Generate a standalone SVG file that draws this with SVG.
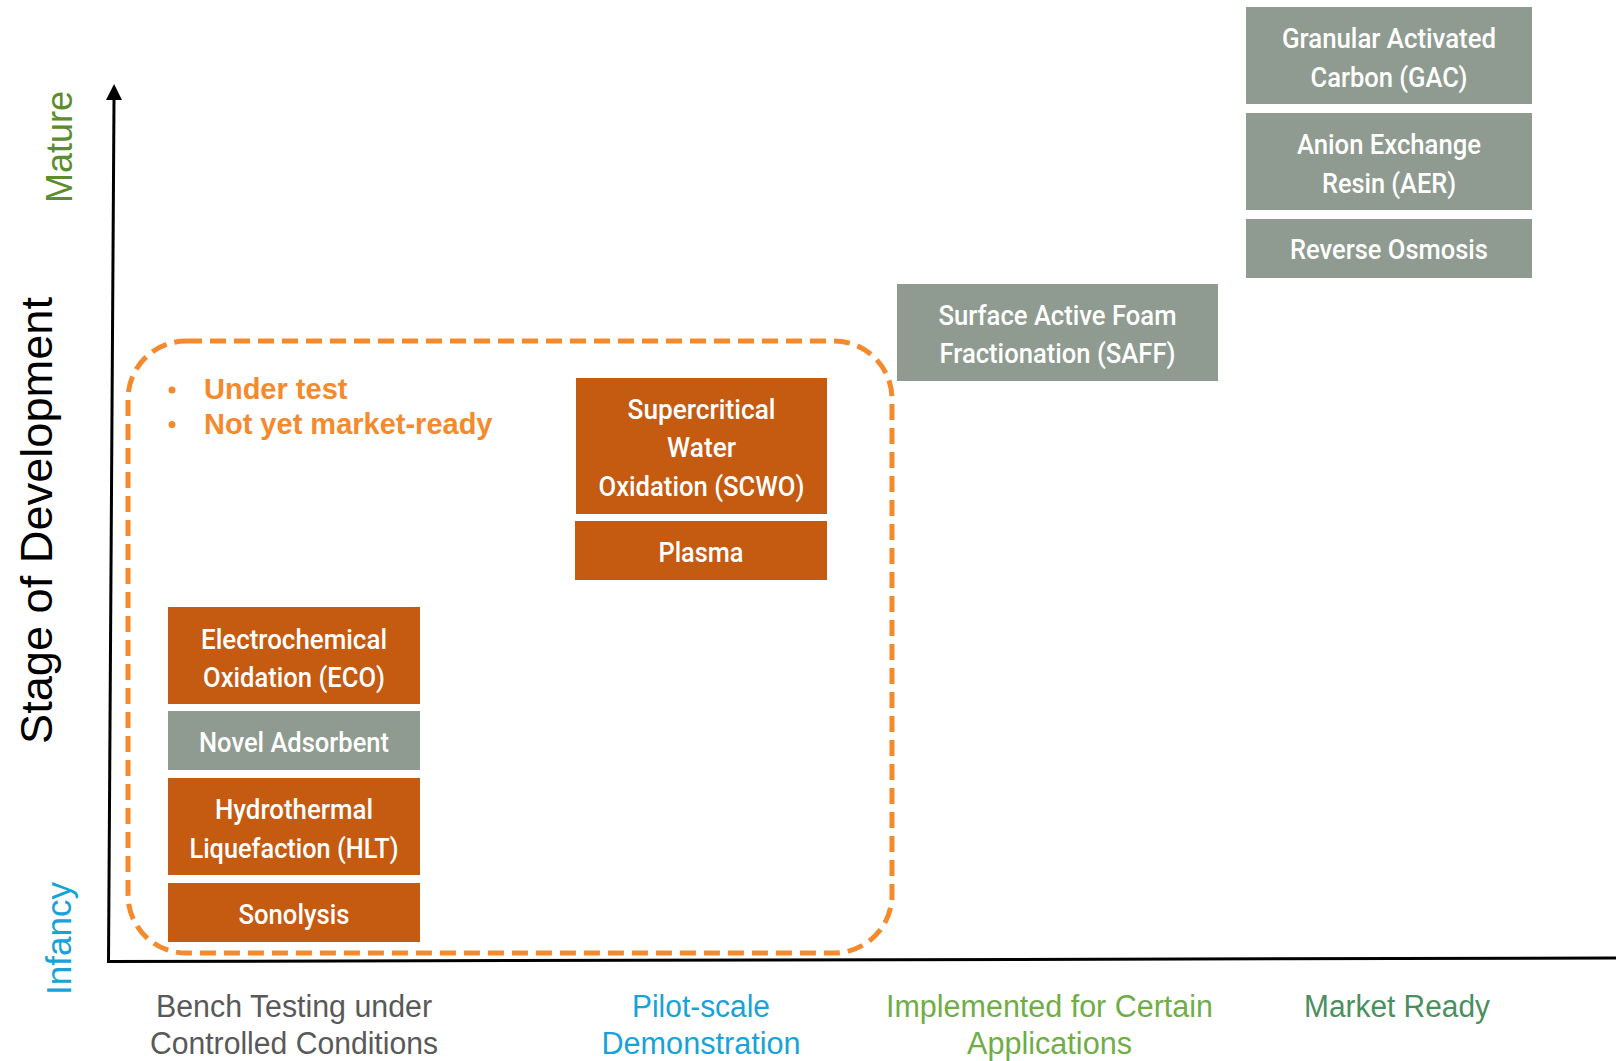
<svg xmlns="http://www.w3.org/2000/svg" width="1616" height="1061" viewBox="0 0 1616 1061">
  <style>
    .orange { fill: #C55A11; }
    .gray { fill: #8F9B90; }
    .bt { font-family: Roboto, "Liberation Sans", sans-serif; font-weight: 500; font-size: 28.5px; fill: #FFFFFF; text-anchor: middle; }
    .xl { font-family: "Liberation Sans", Arial, sans-serif; font-size: 31px; text-anchor: middle; }
    .yl { font-family: "Liberation Sans", Arial, sans-serif; text-anchor: middle; }
    .note { font-family: "Liberation Sans", Arial, sans-serif; font-weight: bold; font-size: 29px; fill: #F58A2C; }
  </style>
  <defs>
    <marker id="arrow" viewBox="0 0 16 16" markerWidth="16" markerHeight="16" refX="0" refY="8" orient="auto" markerUnits="userSpaceOnUse">
      <path d="M0,0 L16,8 L0,16 z" fill="#000000"/>
    </marker>
  </defs>
  <rect x="0" y="0" width="1616" height="1061" fill="#FFFFFF"/>

  <g id="axes">
    <line x1="108.5" y1="962" x2="114" y2="100" stroke="#000000" stroke-width="3" marker-end="url(#arrow)"/>
    <line x1="107" y1="961.5" x2="1616" y2="958" stroke="#000000" stroke-width="3"/>
  </g>

  <g id="axis-labels">
    <text class="yl" transform="translate(51.5,520.5) rotate(-90)" font-size="45" fill="#000000" textLength="447" lengthAdjust="spacingAndGlyphs">Stage of Development</text>
    <text class="yl" transform="translate(72,147) rotate(-90)" font-size="36" fill="#5B8C2D">Mature</text>
    <text class="yl" transform="translate(70.7,938.5) rotate(-90)" font-size="35" fill="#17A3D7">Infancy</text>
    <text class="xl" fill="#595959"><tspan x="294" y="1017" textLength="276" lengthAdjust="spacingAndGlyphs">Bench Testing under</tspan><tspan x="294" y="1054" textLength="288" lengthAdjust="spacingAndGlyphs">Controlled Conditions</tspan></text>
    <text class="xl" fill="#17A3D7"><tspan x="701" y="1017" textLength="138" lengthAdjust="spacingAndGlyphs">Pilot-scale</tspan><tspan x="701" y="1054" textLength="199" lengthAdjust="spacingAndGlyphs">Demonstration</tspan></text>
    <text class="xl" fill="#70AD47"><tspan x="1049.5" y="1017" textLength="327" lengthAdjust="spacingAndGlyphs">Implemented for Certain</tspan><tspan x="1049.5" y="1054" textLength="165" lengthAdjust="spacingAndGlyphs">Applications</tspan></text>
    <text class="xl" fill="#4A8F5E"><tspan x="1397" y="1017" textLength="186" lengthAdjust="spacingAndGlyphs">Market Ready</tspan></text>
  </g>

  <g id="test-region">
    <rect x="128" y="341" width="764" height="612" rx="58" ry="58" fill="none" stroke="#F58A2C" stroke-width="5" stroke-dasharray="16 8"/>
    <circle cx="172" cy="390" r="3.5" fill="#F58A2C"/>
    <circle cx="172" cy="424.5" r="3.5" fill="#F58A2C"/>
    <text class="note" x="204" y="399">Under test</text>
    <text class="note" x="204" y="434">Not yet market-ready</text>
  </g>

  <g id="node-gac">
    <rect class="gray" x="1246" y="7" width="286" height="97"/>
    <text class="bt"><tspan x="1389" y="48" textLength="214" lengthAdjust="spacingAndGlyphs">Granular Activated</tspan><tspan x="1389" y="87" textLength="157" lengthAdjust="spacingAndGlyphs">Carbon (GAC)</tspan></text>
  </g>
  <g id="node-aer">
    <rect class="gray" x="1246" y="113" width="286" height="97"/>
    <text class="bt"><tspan x="1389" y="154" textLength="184" lengthAdjust="spacingAndGlyphs">Anion Exchange</tspan><tspan x="1389" y="192.5" textLength="134" lengthAdjust="spacingAndGlyphs">Resin (AER)</tspan></text>
  </g>
  <g id="node-ro">
    <rect class="gray" x="1246" y="219" width="286" height="59"/>
    <text class="bt" x="1389" y="259" textLength="198" lengthAdjust="spacingAndGlyphs">Reverse Osmosis</text>
  </g>
  <g id="node-saff">
    <rect class="gray" x="897" y="284" width="321" height="97"/>
    <text class="bt"><tspan x="1057.5" y="324.5" textLength="238" lengthAdjust="spacingAndGlyphs">Surface Active Foam</tspan><tspan x="1057.5" y="363" textLength="236" lengthAdjust="spacingAndGlyphs">Fractionation (SAFF)</tspan></text>
  </g>
  <g id="node-scwo">
    <rect class="orange" x="576" y="378" width="251" height="136"/>
    <text class="bt"><tspan x="701.5" y="418.5" textLength="148" lengthAdjust="spacingAndGlyphs">Supercritical</tspan><tspan x="701.5" y="457" textLength="69" lengthAdjust="spacingAndGlyphs">Water</tspan><tspan x="701.5" y="496" textLength="206" lengthAdjust="spacingAndGlyphs">Oxidation (SCWO)</tspan></text>
  </g>
  <g id="node-plasma">
    <rect class="orange" x="575" y="521" width="252" height="59"/>
    <text class="bt" x="701" y="562" textLength="85" lengthAdjust="spacingAndGlyphs">Plasma</text>
  </g>
  <g id="node-eco">
    <rect class="orange" x="168" y="607" width="252" height="97"/>
    <text class="bt"><tspan x="294" y="648.5" textLength="186" lengthAdjust="spacingAndGlyphs">Electrochemical</tspan><tspan x="294" y="687" textLength="182" lengthAdjust="spacingAndGlyphs">Oxidation (ECO)</tspan></text>
  </g>
  <g id="node-novel">
    <rect class="gray" x="168" y="711" width="252" height="59"/>
    <text class="bt" x="294" y="752" textLength="190" lengthAdjust="spacingAndGlyphs">Novel Adsorbent</text>
  </g>
  <g id="node-hlt">
    <rect class="orange" x="168" y="778" width="252" height="97"/>
    <text class="bt"><tspan x="294" y="819" textLength="158" lengthAdjust="spacingAndGlyphs">Hydrothermal</tspan><tspan x="294" y="858" textLength="209" lengthAdjust="spacingAndGlyphs">Liquefaction (HLT)</tspan></text>
  </g>
  <g id="node-sonolysis">
    <rect class="orange" x="168" y="883" width="252" height="59"/>
    <text class="bt" x="294" y="923.5" textLength="111" lengthAdjust="spacingAndGlyphs">Sonolysis</text>
  </g>
</svg>
